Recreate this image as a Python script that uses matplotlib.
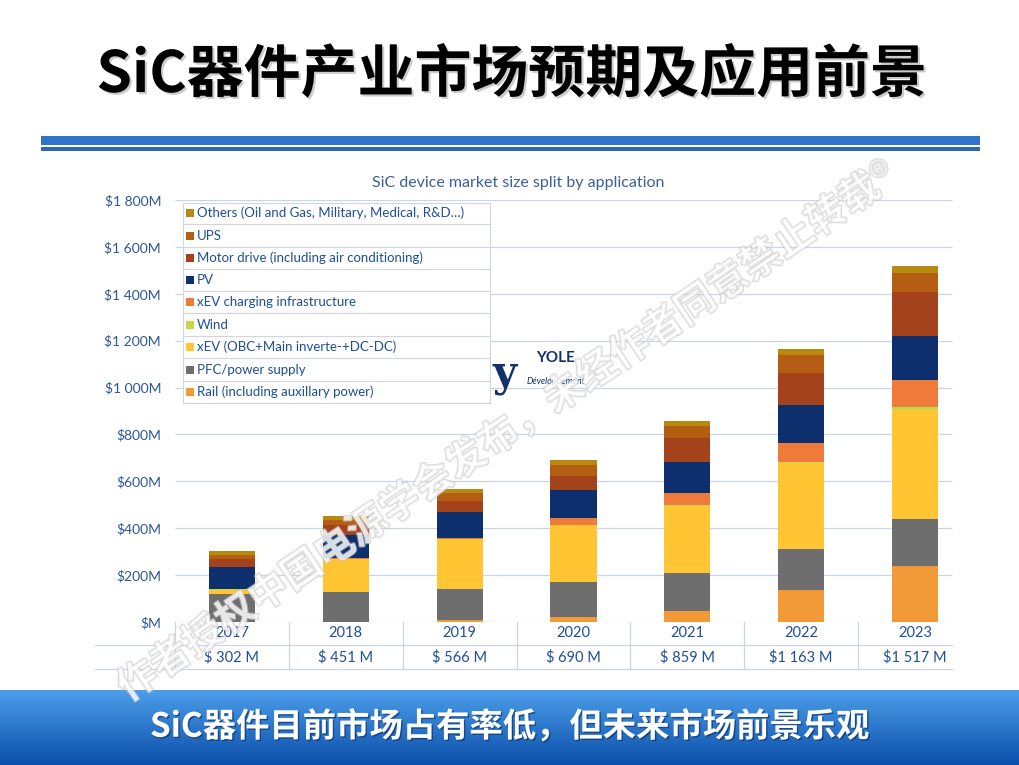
import matplotlib
matplotlib.use("Agg")
import matplotlib.pyplot as plt
import matplotlib.patheffects as pe
from matplotlib.patches import Rectangle
import numpy as np

years = ["2017", "2018", "2019", "2020", "2021", "2022", "2023"]
total_labels = ["$ 302 M", "$ 451 M", "$ 566 M", "$ 690 M", "$ 859 M", "$1 163 M", "$1 517 M"]

# stacked from bottom to top, $M
rail = [0, 2, 7, 21, 46, 138, 240]
pfc = [118, 127, 133, 148, 161, 172, 200]
xev = [20, 140, 213, 243, 289, 368, 465]
wind = [1, 1, 2, 2, 3, 5, 10]
charging = [2, 2, 3, 29, 50, 81, 118]
pv = [94, 97, 110, 118, 134, 162, 185]
motor = [33, 44, 49, 62, 100, 134, 190]
ups = [18, 23, 33, 45, 52, 80, 80]
others = [16, 15, 16, 22, 24, 23, 29]

series_names = [
    "Rail (including auxillary power)",
    "PFC/power supply",
    "xEV (OBC+Main inverte-+DC-DC)",
    "Wind",
    "xEV charging infrastructure",
    "PV",
    "Motor drive (including air conditioning)",
    "UPS",
    "Others (Oil and Gas, Military, Medical, R&D…)",
]
series_values = [rail, pfc, xev, wind, charging, pv, motor, ups, others]
series_colors = ["#F39A38", "#6E6E6E", "#FFC533", "#C6D84A", "#EE7B3A",
                 "#0D2F6E", "#A4421B", "#B35E12", "#B8890F"]

y_ticks = [0, 200, 400, 600, 800, 1000, 1200, 1400, 1600, 1800]

W, H = 1020, 765
BLUE = "#1F4E99"
CJK = ["Noto Sans CJK SC", "DejaVu Sans"]
LAT = ["Lato", "DejaVu Sans"]


def money(v):
    if v == 0:
        return "$M"
    if v >= 1000:
        return f"${v // 1000} {v % 1000:03d}M"
    return f"${v}M"


fig = plt.figure(figsize=(10.2, 7.65), dpi=100)
fig.patch.set_facecolor("white")

# main chart axes, placed in pixel terms
left, right, top, base = 175, 972, 200, 622
ax = fig.add_axes([left / W, (H - base) / H, (right - left) / W, (base - top) / H])
ax.set_xlim(-0.5, 6.5)
ax.set_ylim(0, 1800)
for s in ax.spines.values():
    s.set_visible(False)
ax.set_xticks([])
ax.set_yticks(y_ticks)
ax.set_yticklabels([money(v) for v in y_ticks], fontsize=10, color="#2B579A", family=LAT)
ax.tick_params(axis="y", length=0, pad=10)
ax.hlines(y_ticks, -0.5, 6.32, color="#CBD5E3", lw=0.9, zorder=0)

x = np.arange(len(years))
bottom = np.zeros(len(years))
for vals, col in zip(series_values, series_colors):
    ax.bar(x, vals, width=0.405, bottom=bottom, color=col, zorder=2)
    bottom += np.array(vals)

# table under the bars
tr = ax.get_xaxis_transform()
px_h = base - top
for i, (yr, tot) in enumerate(zip(years, total_labels)):
    ax.text(i, -11 / px_h, yr, transform=tr, ha="center", va="center",
            fontsize=10.5, color=BLUE, family=LAT, clip_on=False)
    ax.text(i, -35 / px_h, tot, transform=tr, ha="center", va="center",
            fontsize=10.5, color=BLUE, family=LAT, clip_on=False)
for i in range(len(years)):
    ax.plot([i - 0.5, i - 0.5], [0, -47 / px_h], transform=tr, color="#CBD5E3",
            lw=0.9, clip_on=False)
for yy in (-23 / px_h, -47 / px_h):
    ax.plot([-1.2, 6.32], [yy, yy], transform=tr, color="#CBD5E3", lw=0.9, clip_on=False)

# overlay for slide decorations, pixel coordinates
ov = fig.add_axes([0, 0, 1, 1], zorder=5)
ov.set_xlim(0, W)
ov.set_ylim(H, 0)
ov.axis("off")
ov.patch.set_alpha(0)

ov.text(512, 75, "SiC器件产业市场预期及应用前景", ha="center", va="center",
        fontsize=41, weight="bold", family=CJK, color="black",
        path_effects=[pe.withSimplePatchShadow(offset=(1.5, -1.5), shadow_rgbFace="#999999", alpha=0.5)])

ov.add_patch(Rectangle((41, 136), 939, 9, color="#2E75C9", lw=0))
ov.add_patch(Rectangle((41, 147), 939, 4, color="#2A6AB5", lw=0))

ov.text(518, 183, "SiC device market size split by application", ha="center", va="center",
        fontsize=11.5, color="#3A5F9A", family=LAT)

# legend table
row_y = [213, 236, 258, 280, 302, 325, 347, 370, 392]
ov.add_patch(Rectangle((183, 203), 307, 200, facecolor="white", edgecolor="#D0D6E0", lw=0.8, zorder=3))
for k, yy in enumerate(row_y):
    idx = len(series_names) - 1 - k
    ov.add_patch(Rectangle((186, yy - 4), 8, 8, color=series_colors[idx], lw=0, zorder=4))
    ov.text(197, yy, series_names[idx], ha="left", va="center", fontsize=9.5,
            color=BLUE, family=LAT, zorder=4)
    if k < len(row_y) - 1:
        ov.plot([183, 490], [yy + 11, yy + 11], color="#D0D6E0", lw=0.8, zorder=4)

# logo
ov.text(505, 374, "y", ha="center", va="center", fontsize=30, color="#14306B",
        family=["DejaVu Serif"], weight="bold", zorder=4)
ov.text(556, 358, "YOLE", ha="center", va="center", fontsize=11, color="#14306B",
        family=LAT, weight="bold", zorder=4)
ov.text(556, 381, "Développement", ha="center", va="center", fontsize=6.5, color="#14306B",
        family=LAT, style="italic", zorder=4)

# watermark
ov.text(508, 432, "作者授权中国电源学会发布，未经作者同意禁止转载®", ha="center", va="center",
        rotation=34, fontsize=28.5, weight="bold", family=CJK, color="white", alpha=0.6, zorder=6,
        path_effects=[pe.Stroke(linewidth=1.6, foreground="#C4C4C4"), pe.Normal()])

# bottom banner
grad = np.linspace(0, 1, 100).reshape(-1, 1)
c_top = np.array([0x4C, 0x9E, 0xEA]) / 255
c_bot = np.array([0x0B, 0x4F, 0xAA]) / 255
img = c_top + grad[..., None] * (c_bot - c_top)
ov.imshow(img, extent=(0, W, H, 690), aspect="auto", zorder=1)
ov.set_xlim(0, W)
ov.set_ylim(H, 0)
ov.text(510, 727, "SiC器件目前市场占有率低，但未来市场前景乐观", ha="center", va="center",
        fontsize=24, weight="bold", family=CJK, color="white", zorder=7,
        path_effects=[pe.withSimplePatchShadow(offset=(1, -1), shadow_rgbFace="#0A2A60", alpha=0.6)])

fig.savefig("out.png", dpi=100)
